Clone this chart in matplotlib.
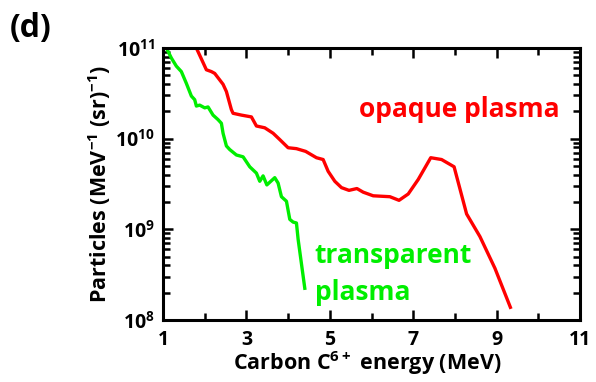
import numpy as np
import matplotlib
matplotlib.use("Agg")
import matplotlib.pyplot as plt
from matplotlib.ticker import FixedLocator, LogLocator, NullFormatter

plt.rcParams['font.family'] = ['Open Sans', 'DejaVu Sans']
plt.rcParams['font.weight'] = 'bold'
plt.rcParams['mathtext.fontset'] = 'custom'
plt.rcParams['mathtext.rm'] = 'Open Sans:bold'
plt.rcParams['mathtext.bf'] = 'Open Sans:bold'
plt.rcParams['mathtext.default'] = 'rm'

# Opaque plasma spectrum: energy (MeV) and log10 of particles per MeV per sr
opaque_energy = [1.80, 2.04, 2.16, 2.24, 2.44, 2.52, 2.64, 2.68, 2.88, 3.12, 3.24,
                 3.44, 3.64, 3.80, 4.00, 4.20, 4.42, 4.68, 4.84, 4.96, 5.12, 5.28,
                 5.46, 5.65, 5.80, 6.04, 6.44, 6.66, 6.88, 7.12, 7.42, 7.68, 7.98,
                 8.28, 8.60, 8.96, 9.33]
opaque_log = [11.0, 10.76, 10.74, 10.72, 10.60, 10.52, 10.32, 10.28, 10.26, 10.24,
              10.14, 10.12, 10.06, 9.99, 9.90, 9.89, 9.86, 9.79, 9.77, 9.64, 9.53,
              9.46, 9.43, 9.45, 9.41, 9.37, 9.36, 9.32, 9.39, 9.55, 9.79, 9.77,
              9.69, 9.17, 8.92, 8.57, 8.14]

# Transparent plasma spectrum
transp_energy = [1.08, 1.20, 1.32, 1.44, 1.56, 1.68, 1.76, 1.80, 1.88, 2.00, 2.08,
                 2.20, 2.32, 2.40, 2.44, 2.52, 2.60, 2.76, 2.92, 3.08, 3.24, 3.32,
                 3.40, 3.49, 3.68, 3.76, 3.84, 3.96, 4.04, 4.12, 4.20, 4.24, 4.40]
transp_log = [11.0, 10.89, 10.80, 10.74, 10.61, 10.47, 10.43, 10.36, 10.37, 10.34,
              10.35, 10.26, 10.21, 10.17, 10.06, 9.92, 9.88, 9.82, 9.80, 9.69,
              9.62, 9.53, 9.59, 9.49, 9.57, 9.51, 9.36, 9.31, 9.11, 9.08, 9.07,
              8.89, 8.35]

x_ticks = [1, 3, 5, 7, 9, 11]

fig = plt.figure(figsize=(5.96, 3.82), dpi=100)
ax = fig.add_axes([0.2735, 0.1623, 0.6997, 0.712])

ax.plot(opaque_energy, 10.0 ** np.array(opaque_log), color='#ff0000', lw=2.4)
ax.plot(transp_energy, 10.0 ** np.array(transp_log), color='#00ee00', lw=2.4)

ax.set_yscale('log')
ax.set_xlim(1, 11)
ax.set_ylim(1e8, 1e11)
ax.xaxis.set_major_locator(FixedLocator(x_ticks))
ax.xaxis.set_minor_locator(FixedLocator([2, 4, 6, 8, 10]))
ax.yaxis.set_major_locator(LogLocator(base=10, numticks=10))
ax.yaxis.set_minor_locator(LogLocator(base=10, subs=np.arange(2, 10), numticks=10))
ax.yaxis.set_minor_formatter(NullFormatter())

for s in ax.spines.values():
    s.set_linewidth(2.2)
ax.tick_params(which='both', direction='in', top=True, right=True, width=1.8)
ax.tick_params(which='major', length=7, labelsize=14, pad=6)
ax.tick_params(axis='x', which='major', pad=7)
ax.tick_params(which='minor', length=5)
for lbl in ax.get_xticklabels() + ax.get_yticklabels():
    lbl.set_fontweight('bold')

ax.set_xlabel('Carbon C$^{6+}$ energy (MeV)', fontsize=15.5, fontweight='bold', va='center')
ax.set_ylabel('Particles (MeV$^{-1}$ (sr)$^{-1}$)', fontsize=15.5, fontweight='bold', va='center')
ax.xaxis.set_label_coords(0.49, -0.16)
ax.yaxis.set_label_coords(-0.151, 0.5)

ax.text(0.71, 0.7475, 'opaque plasma', transform=ax.transAxes, color='#ff0000',
        fontsize=19, fontweight='bold', ha='center', va='baseline')
ax.text(0.364, 0.210, 'transparent', transform=ax.transAxes, color='#00ee00',
        fontsize=19, fontweight='bold', ha='left', va='baseline')
ax.text(0.364, 0.0735, 'plasma', transform=ax.transAxes, color='#00ee00',
        fontsize=19, fontweight='bold', ha='left', va='baseline')

fig.text(0.017, 0.925, '(d)', fontsize=23, fontweight='bold', ha='left', va='center')

fig.savefig('out.png', dpi=100)
